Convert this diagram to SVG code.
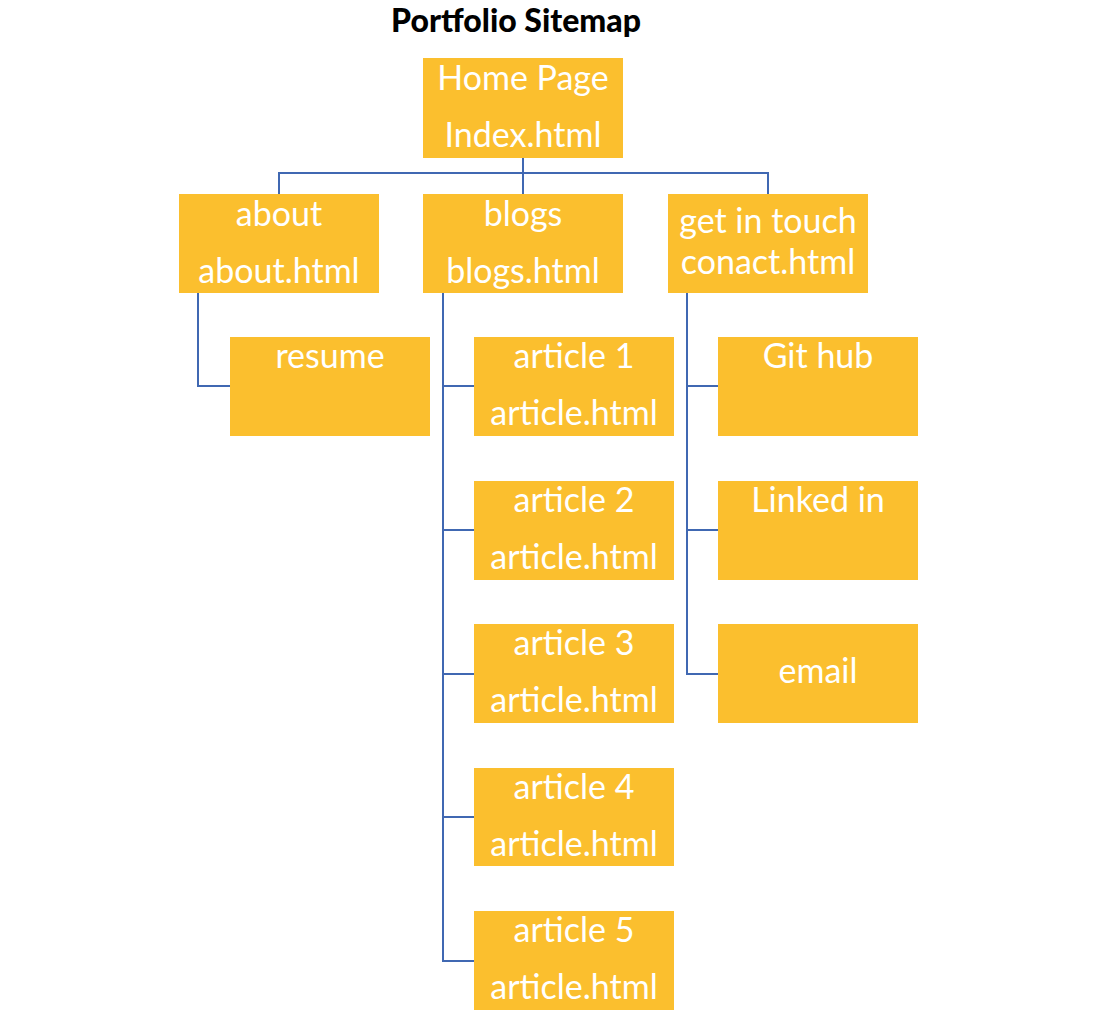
<svg xmlns="http://www.w3.org/2000/svg" width="1114" height="1028" viewBox="0 0 1114 1028">
<style>
.box{fill:#FBBF2E}
.t{font-family:Lato,"Liberation Sans",sans-serif;font-size:34px;fill:#fff;text-anchor:middle}
.c{fill:none;stroke:#4068B2;stroke-width:2}
.title{font-family:Lato,"Liberation Sans",sans-serif;font-size:32px;font-weight:900;fill:#000;text-anchor:middle}
</style>
<rect width="1114" height="1028" fill="#fff"/>
<text class="title" x="516" y="32">Portfolio Sitemap</text>
<g id="connectors">
<path class="c" d="M523 158V194M279 194V173H768V194"/>
<path class="c" d="M198 293V386H230"/>
<path class="c" d="M443 293V961H474M443 386H474M443 530H474M443 674H474M443 817H474"/>
<path class="c" d="M687 293V674H718M687 386H718M687 530H718"/>
</g>
<g id="home"><rect class="box" x="423" y="58" width="200" height="100"/><text class="t" x="523" y="90">Home Page</text><text class="t" x="523" y="147">Index.html</text></g>
<g id="about"><rect class="box" x="179" y="194" width="200" height="99"/><text class="t" x="279" y="226">about</text><text class="t" x="279" y="283">about.html</text></g>
<g id="blogs"><rect class="box" x="423" y="194" width="200" height="99"/><text class="t" x="523" y="226">blogs</text><text class="t" x="523" y="283">blogs.html</text></g>
<g id="contact"><rect class="box" x="668" y="194" width="200" height="99"/><text class="t" x="768" y="233">get in touch</text><text class="t" x="768" y="274">conact.html</text></g>
<g id="resume"><rect class="box" x="230" y="337" width="200" height="99"/><text class="t" x="330" y="368">resume</text></g>
<g id="article1"><rect class="box" x="474" y="337" width="200" height="99"/><text class="t" x="574" y="368">article 1</text><text class="t" x="574" y="425">article.html</text></g>
<g id="article2"><rect class="box" x="474" y="481" width="200" height="99"/><text class="t" x="574" y="512">article 2</text><text class="t" x="574" y="569">article.html</text></g>
<g id="article3"><rect class="box" x="474" y="624" width="200" height="99"/><text class="t" x="574" y="655">article 3</text><text class="t" x="574" y="712">article.html</text></g>
<g id="article4"><rect class="box" x="474" y="768" width="200" height="98"/><text class="t" x="574" y="799">article 4</text><text class="t" x="574" y="856">article.html</text></g>
<g id="article5"><rect class="box" x="474" y="911" width="200" height="99"/><text class="t" x="574" y="942">article 5</text><text class="t" x="574" y="999">article.html</text></g>
<g id="github"><rect class="box" x="718" y="337" width="200" height="99"/><text class="t" x="818" y="368">Git hub</text></g>
<g id="linkedin"><rect class="box" x="718" y="481" width="200" height="99"/><text class="t" x="818" y="512">Linked in</text></g>
<g id="email"><rect class="box" x="718" y="624" width="200" height="99"/><text class="t" x="818" y="683">email</text></g>
</svg>
